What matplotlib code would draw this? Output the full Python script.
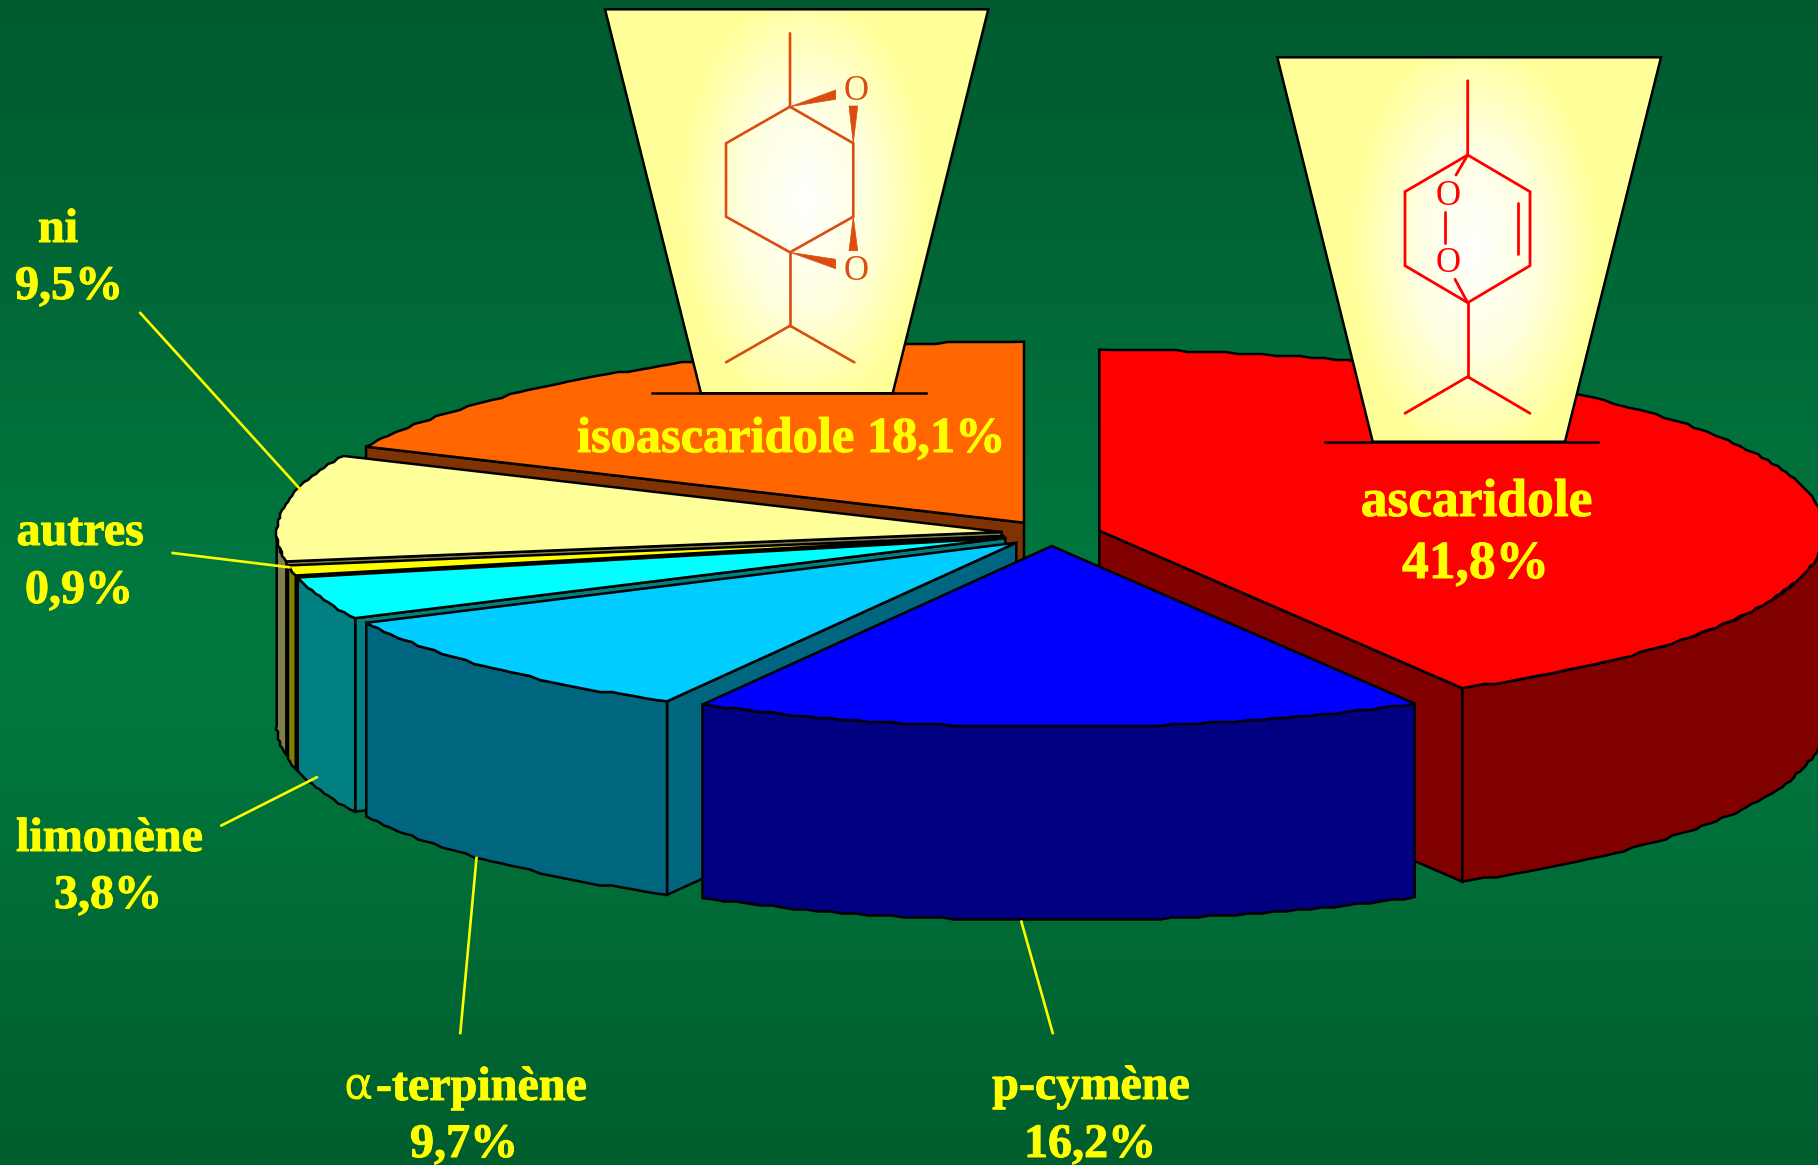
import numpy as np
import matplotlib
matplotlib.use('Agg')
import matplotlib.pyplot as plt
import matplotlib.patheffects as pe
from matplotlib.colors import LinearSegmentedColormap
from matplotlib.patches import Polygon

W, H = 1818, 1165

# composition of the essential oil, clockwise from 12 o'clock
names = ['ascaridole', 'p-cymène', 'α-terpinène', 'limonène', 'autres', 'ni', 'isoascaridole']
values = [41.8, 16.2, 9.7, 3.8, 0.9, 9.5, 18.1]
top_colors = ['#FF0000', '#0000FF', '#00CCFF', '#00FFFF', '#FFFF00', '#FFFF99', '#FF6600']
side_colors = ['#800000', '#000080', '#006680', '#008080', '#808000', '#80804C', '#803300']

# exploded apex of each slice, in pixels
apexes = [(1099.3, 530.7), (1051.7, 546), (1016.3, 542.7), (1005.3, 538),
          (1003.3, 536), (1001.7, 532), (1024, 522.7)]
draw_order = [0, 6, 5, 4, 3, 2, 1]

RX, RY, DEPTH = 725, 181, 193.5
FRONT_WIDEN = 0.0216
LW = 1.8
YELLOW = '#FFFF00'


def rim(apex, deg):
    t = np.radians(deg)
    s = np.sin(t)
    # the front right of the disc sits a little wider than the rest
    front = np.clip(-np.cos(t), 0, None) * (s > 0)
    x = apex[0] + RX * s * (1 + FRONT_WIDEN * front ** 2)
    y = apex[1] - RY * np.cos(t)
    return np.column_stack([x, y])


def faceted_arc(apex, start, end):
    # the rim is a fine polyline snapped to a small grid, not a true curve
    n = max(2, int((end - start) / 1.0) + 1)
    pts = rim(apex, np.linspace(start, end, n))
    pts[1:-1] = np.round(pts[1:-1] / 2) * 2
    return pts


def add_poly(ax, pts, color, z):
    ax.add_patch(Polygon(pts, closed=True, facecolor=color, edgecolor='black',
                         linewidth=LW, joinstyle='miter', zorder=z))


def draw_slice(ax, apex, start, end, top, side, z):
    apex_arr = np.array([apex])
    down = np.array([0, DEPTH])
    # only the radial walls turned towards the viewer
    for deg, sign in ((start, -1), (end, 1)):
        if sign * np.sin(np.radians(deg)) > 1e-6:
            corner = rim(apex, np.array([deg]))
            add_poly(ax, np.vstack([apex_arr, corner, corner + down, apex_arr + down]), side, z)
    lo, hi = max(start, 90), min(end, 270)
    if hi > lo:
        arc = faceted_arc(apex, lo, hi)
        add_poly(ax, np.vstack([arc, arc[::-1] + down]), side, z)
    add_poly(ax, np.vstack([apex_arr, faceted_arc(apex, start, end)]), top, z)


def draw_card(ax, corners, base_x, center, cmap):
    yy, xx = np.mgrid[0:H // 2, 0:W // 2] * 2.0
    dist = np.hypot((xx - center[0]) / 125, (yy - center[1]) / 215)
    img = ax.imshow(dist, extent=(0, W, H, 0), cmap=cmap, vmin=0, vmax=1,
                    aspect='auto', zorder=20, interpolation='bilinear')
    patch = Polygon(corners, closed=True, facecolor='none', edgecolor='black',
                    linewidth=LW, zorder=21, joinstyle='miter')
    ax.add_patch(patch)
    img.set_clip_path(patch)
    ax.plot(base_x, [corners[2][1]] * 2, color='black', lw=LW, zorder=21)


def draw_bonds(ax, bonds, color, lw):
    for b in bonds:
        xs, ys = zip(*b)
        ax.plot(xs, ys, color=color, lw=lw, zorder=22, solid_capstyle='round',
                solid_joinstyle='miter')


fig = plt.figure(figsize=(W / 100, H / 100), dpi=100)
ax = fig.add_axes([0, 0, 1, 1])

bg = LinearSegmentedColormap.from_list('bg', [(0, '#005A30'), (0.55, '#007A40'), (1, '#005E2E')])
ax.imshow(np.linspace(0, 1, 512).reshape(-1, 1), extent=(0, W, H, 0), cmap=bg,
          aspect='auto', zorder=0)

edges = np.concatenate([[0], np.cumsum(values)]) * 3.6
for z, i in enumerate(draw_order):
    draw_slice(ax, apexes[i], edges[i], edges[i + 1], top_colors[i], side_colors[i], 2 + z)

# leader lines
leaders = [((140.3, 313), (300, 489)), ((172.7, 553), (289.3, 567.3)),
           ((221.4, 825.5), (316.7, 777.3)), ((460.3, 1033), (476.5, 858)),
           ((1052.7, 1033), (1021.4, 921.7))]
for a, b in leaders:
    ax.plot([a[0], b[0]], [a[1], b[1]], color=YELLOW, lw=1.9, zorder=15)

# structure cards
card = LinearSegmentedColormap.from_list('card', ['#FFFFFF', '#FFFFE0', '#FFFF99'])
draw_card(ax, [(605, 9.3), (988.3, 9.3), (892.7, 393.3), (701, 393.3)], [652.3, 925.7], (803, 200), card)
draw_card(ax, [(1277.3, 57.3), (1661, 57.3), (1565, 441.7), (1372.7, 441.7)], [1325, 1597.7], (1473, 247), card)

# isoascaridole skeleton
ISO = '#DC4C10'
draw_bonds(ax, [
    [(790, 33.3), (790, 106.7), (853.3, 143.3), (853.3, 216.7), (790, 252.3),
     (726, 216.7), (726, 143.3), (790, 106.7)],
    [(790, 252.3), (790, 325.7)],
    [(726, 362.3), (790, 325.7), (854.3, 362.3)],
], ISO, 1.9)
for tri in ([(790, 106.7), (835.7, 90), (835.7, 99.3)],
            [(853.3, 143.3), (849, 106), (857.7, 106)],
            [(853.3, 216.7), (849, 250.7), (857.7, 250.7)],
            [(790, 252.3), (835.7, 259.3), (835.7, 268.7)]):
    ax.add_patch(Polygon(tri, closed=True, facecolor=ISO, edgecolor=ISO, linewidth=0.5, zorder=22))

# ascaridole skeleton
ASC = '#FF0000'
draw_bonds(ax, [
    [(1467.7, 80.7), (1467.7, 155), (1530, 191.7), (1530, 265.7), (1467.7, 302.7),
     (1405, 265.7), (1405, 191.7), (1467.7, 155)],
    [(1517.7, 203.3), (1517.7, 254)],
    [(1467.7, 302.7), (1467.7, 376.7)],
    [(1405, 413.3), (1467.7, 376.7), (1530, 413.3)],
    [(1445, 211.7), (1445, 242.7)],
    [(1467.7, 155), (1456, 175)],
    [(1467.7, 302.7), (1455, 279.3)],
], ASC, 2.0)

for x, y, c in [(856, 87.7, ISO), (856, 267.3, ISO), (1448.3, 192.7, ASC), (1448.3, 260, ASC)]:
    ax.text(x, y, 'O', color=c, fontsize=25, family='Liberation Serif',
            ha='center', va='center_baseline', zorder=23)

# text lines of the labels, built from the values above
pct = [f'{v:.1f}%'.replace('.', ',') for v in values]
labels = [
    (names[5], 58, 242, 34.6), (pct[5], 69, 299, 34.6),
    (names[4], 80, 545, 34.6), (pct[4], 79, 603, 34.6),
    (names[3], 109.5, 851, 34.6), (pct[3], 108, 908, 34.6),
    (pct[2], 464, 1157, 34.6),
    (names[1], 1091, 1099, 34.6), (pct[1], 1090, 1157, 34.6),
    (f'{names[6]} {pct[6]}', 791, 452, 36.3),
    (names[0], 1476.5, 516, 38.5), (pct[0], 1475.5, 578, 38.5),
]
heavier = [pe.withStroke(linewidth=0.7, foreground=YELLOW)]
for text, x, y, size in labels:
    ax.text(x, y, text, color=YELLOW, fontsize=size, fontweight='bold',
            family='Liberation Serif', ha='center', va='baseline', zorder=30,
            path_effects=heavier)

# the Greek letter stays in regular weight
ax.text(344, 1100, names[2][0], color=YELLOW, fontsize=32, family='DejaVu Sans',
        ha='left', va='baseline', zorder=30)
ax.text(376, 1100, names[2][1:], color=YELLOW, fontsize=34.6, fontweight='bold',
        family='Liberation Serif', ha='left', va='baseline', zorder=30,
        path_effects=heavier)

ax.set_xlim(0, W)
ax.set_ylim(H, 0)
ax.set_axis_off()
fig.savefig('out.png', dpi=100)
